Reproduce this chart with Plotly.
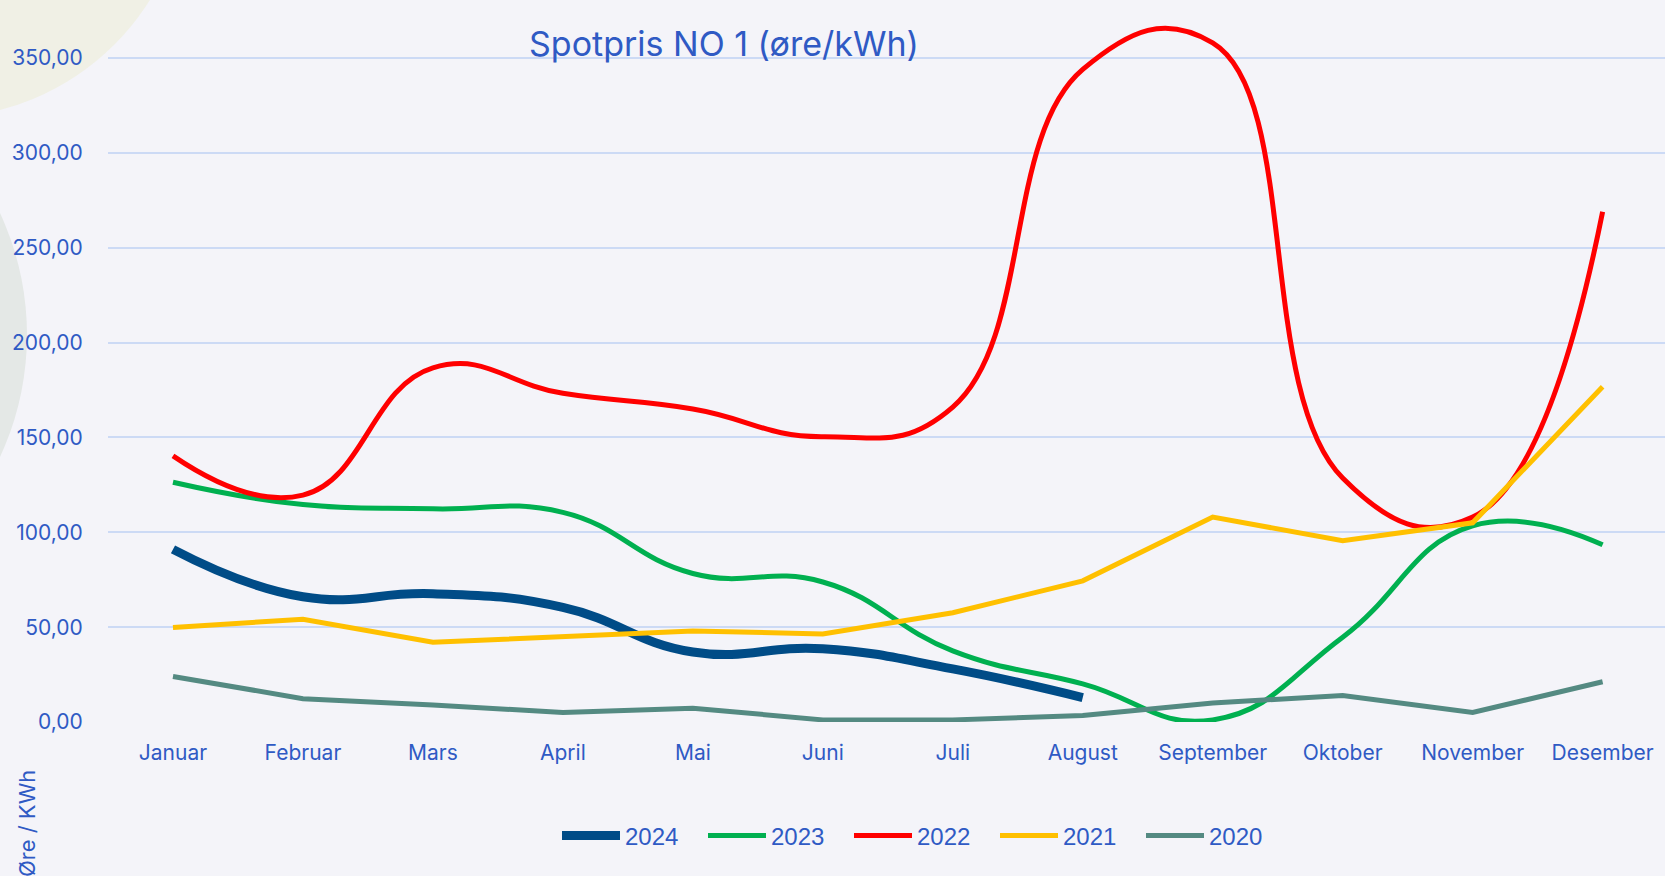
import plotly.graph_objects as go

months = ["Januar", "Februar", "Mars", "April", "Mai", "Juni", "Juli",
          "August", "September", "Oktober", "November", "Desember"]

y2024 = [91.0, 66.0, 67.6, 60.4, 36.9, 38.6, 28.0, 12.9]
y2023 = [126.4, 114.6, 112.4, 110.5, 78.3, 73.8, 37.5, 20.1, 1.1, 44.7, 103.4, 93.4]
y2022 = [140.3, 119.6, 186.7, 173.3, 165.0, 150.4, 166.0, 344.0, 358.0, 128.6, 108.0, 269.0]
y2021 = [49.8, 54.2, 42.0, 44.7, 48.0, 46.4, 57.6, 74.4, 108.0, 95.6, 105.0, 176.7]
y2020 = [24.0, 12.3, 9.0, 5.0, 7.3, 1.1, 1.1, 3.4, 10.0, 14.0, 5.0, 21.2]

yticks = [0, 50, 100, 150, 200, 250, 300, 350]

TXT = "#2F5AC4"
FONT = "Inter"
BG = "#F4F4F9"

series = [
    ("2024", y2024, "#004C87", 9, "spline"),
    ("2023", y2023, "#00B050", 5, "spline"),
    ("2022", y2022, "#FF0000", 5, "spline"),
    ("2021", y2021, "#FFC000", 5, "linear"),
    ("2020", y2020, "#548A82", 5, "linear"),
]

fig = go.Figure()
for name, vals, color, w, shape in series:
    fig.add_trace(go.Scatter(
        x=months[:len(vals)], y=vals, name=name, mode="lines",
        line=dict(color=color, width=w, shape=shape, smoothing=1.3),
    ))

W, H = 1665, 876
L, R, T, B = 108, 0, 0, 154
pw, ph = W - L - R, H - T - B

def px(x):
    return (x - L) / pw

def py(y):
    return (T + ph - y) / ph

# decorative background circles
fig.add_shape(type="circle", xref="paper", yref="paper",
              x0=px(-314), x1=px(188), y0=py(118), y1=py(-384),
              fillcolor="#F0F0E5", line_width=0, layer="below")
fig.add_shape(type="circle", xref="paper", yref="paper",
              x0=px(-551), x1=px(27), y0=py(624), y1=py(46),
              fillcolor="#E4E8E6", line_width=0, layer="below")

fig.add_annotation(text="Spotpris NO 1 (øre/kWh)", xref="paper", yref="paper",
                   x=px(724), y=py(44), xanchor="center", yanchor="middle",
                   showarrow=False,
                   font=dict(family=FONT, size=34, color=TXT))
fig.add_annotation(text="Øre / KWh", xref="paper", yref="paper",
                   x=px(27), y=py(824), xanchor="center", yanchor="middle",
                   showarrow=False, textangle=-90,
                   font=dict(family=FONT, size=22, color=TXT))

fig.update_layout(
    width=W, height=H,
    margin=dict(l=L, r=R, t=T, b=B),
    paper_bgcolor=BG,
    plot_bgcolor="rgba(0,0,0,0)",
    separators=", ",
    font=dict(family=FONT, size=21, color=TXT),
    showlegend=True,
    legend=dict(orientation="h", x=px(922), xanchor="center", y=py(836), yanchor="middle",
                font=dict(family="Liberation Sans Narrow, Liberation Sans", size=24, color=TXT),
                itemwidth=58, entrywidth=73, entrywidthmode="pixels",
                bgcolor="rgba(0,0,0,0)", traceorder="normal"),
    xaxis=dict(range=[-0.5, 11.48], showgrid=False, zeroline=False, showline=False,
               ticks="outside", ticklen=12, tickcolor="rgba(0,0,0,0)",
               tickfont=dict(family=FONT, size=21, color=TXT)),
    yaxis=dict(range=[0, 380.6], tickvals=yticks, tickformat=".2f",
               showgrid=True, gridcolor="#CCDAF5", gridwidth=2,
               zeroline=False, showline=False,
               ticks="outside", ticklen=20, tickcolor="rgba(0,0,0,0)",
               tickfont=dict(family=FONT, size=21, color=TXT)),
)

fig.write_html("out.html", config={"displayModeBar": False},
               post_script="document.body.style.margin='0';document.body.style.background='%s';" % BG)
